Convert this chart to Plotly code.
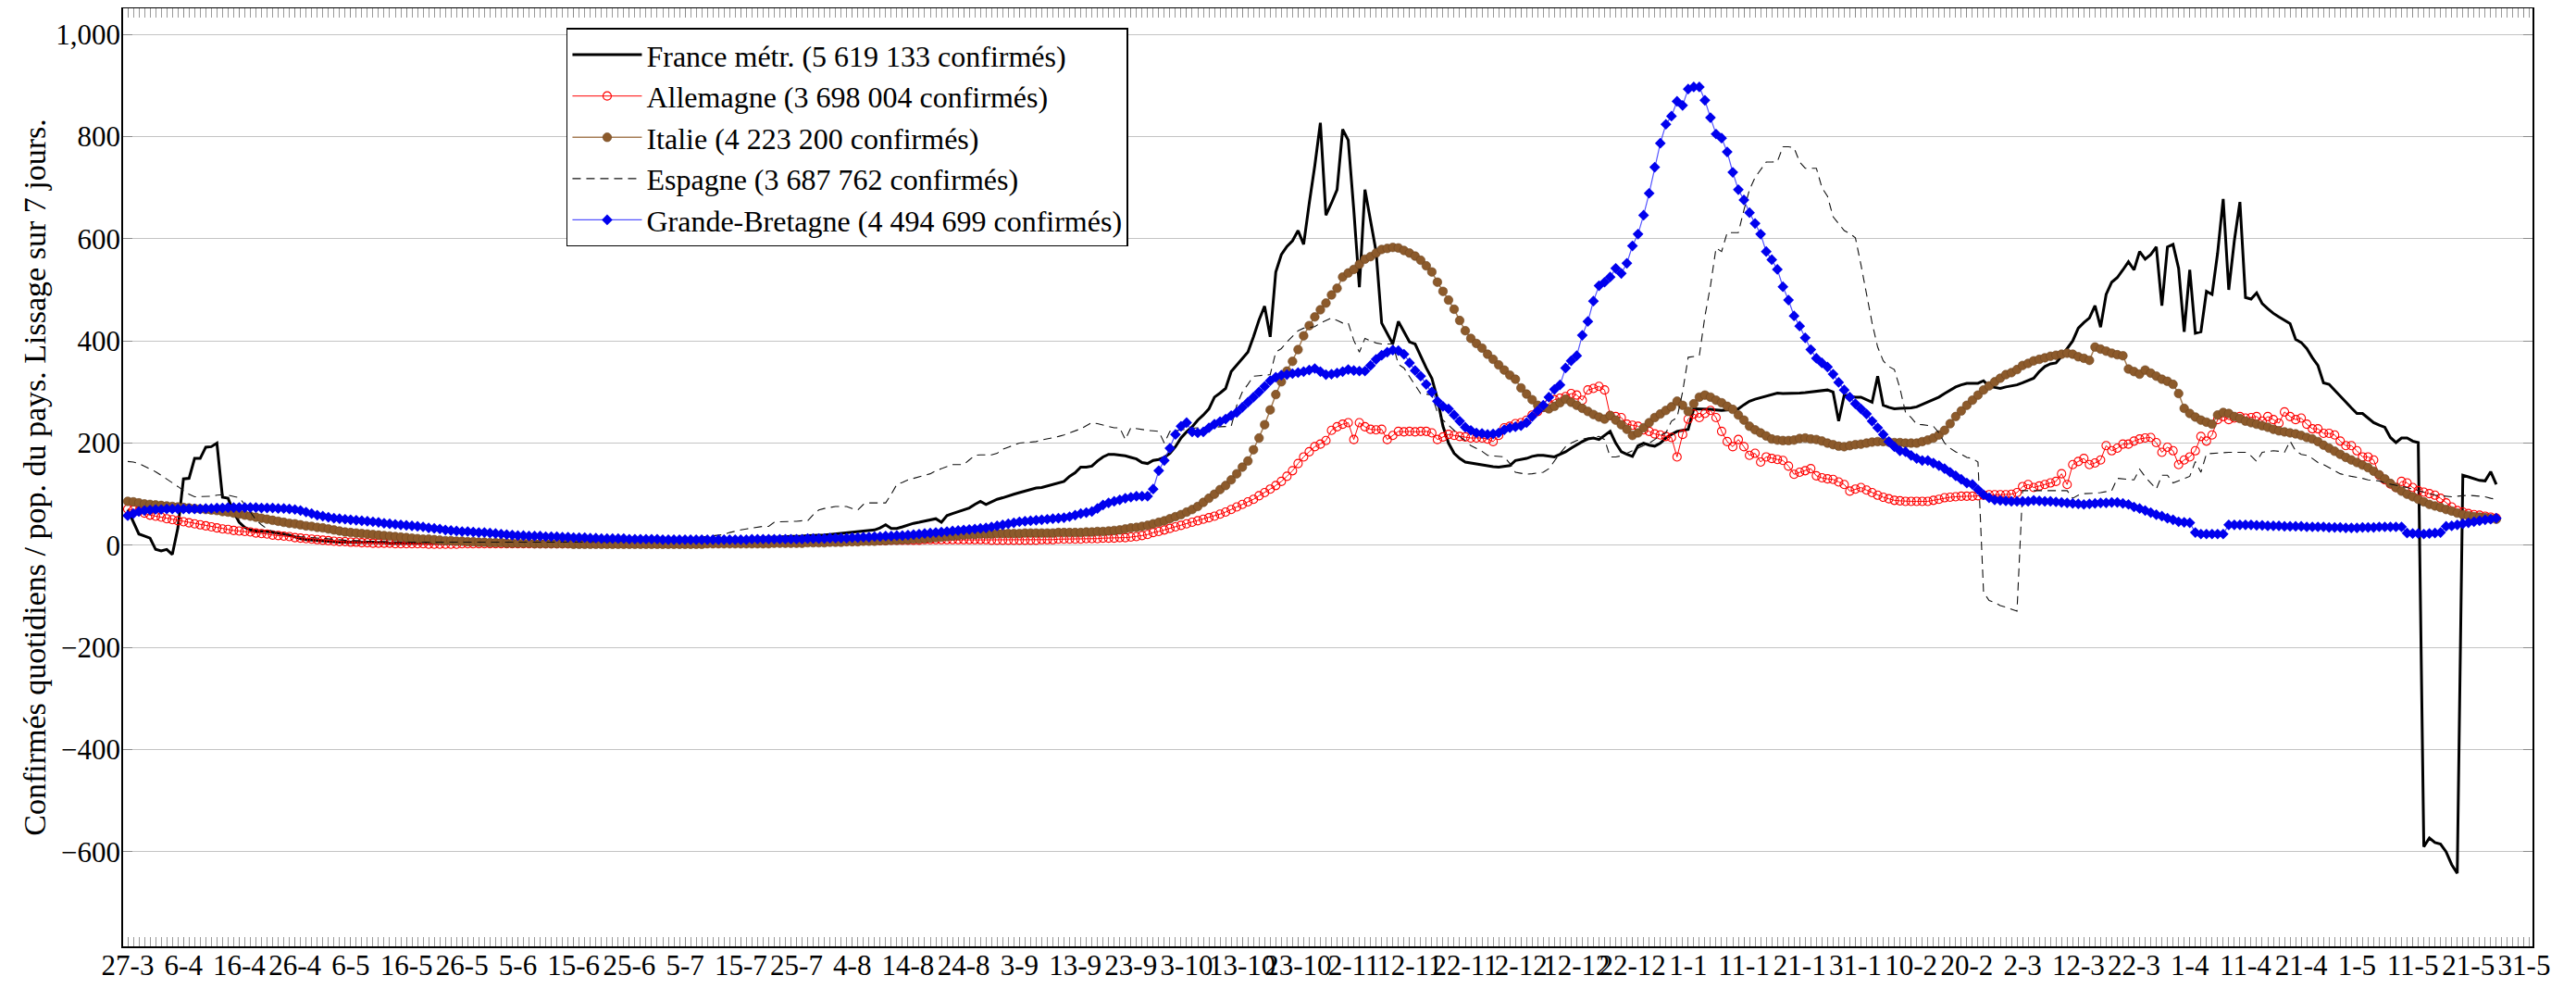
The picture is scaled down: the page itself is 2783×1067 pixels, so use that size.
import pandas as pd
import plotly.graph_objects as go

START = "2020-03-27"

# Daily values, one row = 10 days (starting 27-3-2020)
FRANCE = [
    70, 45, 22, 18, 14, -8, -11, -8, -18, 34,
    130, 131, 170, 170, 192, 193, 200, 94, 92, 65,
    45, 35, 30, 28, 28, 27, 25, 24, 22, 20,
    16, 13, 11, 10, 9, 8, 7, 7, 6, 6,
    6, 5, 5, 5, 5, 5, 5, 4, 4, 4,
    4, 4, 4, 4, 4, 4, 4, 4, 4, 4,
    4, 4, 3, 3, 3, 4, 4, 4, 4, 4,
    4, 5, 5, 5, 5, 5, 5, 6, 6, 6,
    6, 6, 6, 7, 7, 7, 7, 7, 7, 8,
    8, 8, 8, 8, 9, 9, 9, 9, 10, 10,
    10, 10, 11, 11, 11, 12, 12, 12, 13, 13,
    13, 14, 14, 14, 15, 15, 16, 16, 17, 17,
    18, 18, 19, 19, 20, 20, 21, 22, 23, 24,
    25, 26, 27, 28, 30, 34, 40, 33, 33, 36,
    40, 43, 45, 47, 50, 52, 45, 58, 62, 66,
    70, 73, 80, 86, 80, 85, 90, 93, 97, 100,
    103, 106, 109, 112, 113, 116, 118, 121, 125, 135,
    142, 153, 153, 155, 165, 173, 178, 178, 177, 175,
    172, 169, 162, 160, 166, 168, 172, 180, 193, 210,
    222, 232, 245, 255, 267, 290, 298, 307, 340, 352,
    364, 378, 408, 441, 468, 408, 535, 569, 585, 596,
    616, 589, 669, 743, 827, 646, 670, 696, 814, 793,
    656, 505, 696, 636, 575, 435, 415, 394, 438, 418,
    398, 394, 370, 347, 327, 287, 233, 200, 180, 170,
    163, 161, 159, 157, 156, 154, 153, 154, 156, 166,
    168, 170, 174, 176, 176, 174, 173, 178, 183, 190,
    197, 203, 208, 210, 207, 215, 223, 200, 183, 178,
    174, 195, 200, 196, 194, 200, 210, 217, 223, 225,
    227, 267, 267, 267, 266, 265, 264, 265, 266, 267,
    275, 282, 286, 289, 292, 295, 298, 297, 297, 298,
    298, 299, 300, 301, 302, 304, 300, 243, 294, 292,
    290, 290, 285, 280, 331, 274, 270, 267, 268, 268,
    269, 271, 276, 280, 285, 290, 297, 304, 310, 314,
    317, 317, 317, 322, 311, 309, 307, 310, 312, 314,
    318, 322, 327, 340, 350, 355, 357, 370, 385, 400,
    425, 436, 445, 469, 427, 491, 515, 524, 539, 555,
    539, 575, 560, 569, 584, 469, 584, 589, 542, 418,
    539, 415, 418, 497, 491, 572, 678, 500, 596, 672,
    485, 482, 494, 473, 463, 454, 447, 441, 434, 403,
    397, 385, 367, 352, 318, 315, 303, 291, 279, 269,
    258, 258, 249, 240, 235, 231, 211, 201, 210, 210,
    204, 201, -590, -573, -582, -585, -600, -625, -642, 137,
    134, 130, 127, 126, 144, 119,
]

ALLEMAGNE = [
    71, 69, 67, 63, 59, 57, 55, 52, 50, 48,
    46, 44, 42, 40, 38, 36, 34, 32, 31, 29,
    28, 27, 26, 24, 23, 22, 20, 19, 18, 17,
    15, 14, 13, 12, 11, 10, 9, 8, 7, 7,
    6, 6, 5, 5, 4, 4, 4, 4, 3, 3,
    3, 3, 3, 3, 2, 2, 2, 2, 2, 2,
    3, 3, 3, 3, 3, 3, 3, 3, 3, 3,
    3, 3, 3, 3, 3, 3, 3, 3, 3, 3,
    4, 4, 4, 5, 5, 5, 5, 5, 5, 5,
    5, 5, 5, 4, 4, 4, 4, 4, 4, 4,
    4, 4, 4, 4, 4, 4, 4, 5, 5, 5,
    5, 5, 5, 5, 5, 6, 6, 6, 6, 6,
    6, 6, 7, 7, 7, 7, 8, 8, 8, 8,
    8, 8, 9, 9, 9, 9, 9, 10, 10, 10,
    10, 10, 10, 11, 11, 11, 11, 11, 11, 11,
    11, 11, 11, 11, 11, 10, 10, 10, 10, 10,
    10, 10, 10, 10, 11, 11, 11, 12, 12, 12,
    12, 12, 13, 13, 13, 14, 14, 14, 15, 15,
    16, 17, 19, 21, 25, 27, 30, 33, 36, 39,
    42, 45, 48, 51, 54, 57, 61, 65, 70, 75,
    80, 85, 90, 97, 103, 110, 117, 125, 135, 146,
    160, 173, 183, 193, 198, 205, 225, 232, 237, 240,
    207, 240, 232, 227, 226, 227, 207, 215, 223, 222,
    223, 222, 223, 223, 220, 207, 212, 217, 215, 213,
    212, 210, 210, 210, 208, 203, 215, 230, 233, 238,
    240, 245, 255, 262, 270, 277, 285, 288, 291, 297,
    294, 284, 304, 307, 311, 304, 254, 252, 250, 237,
    235, 233, 226, 223, 218, 216, 213, 211, 173, 217,
    247, 257, 250, 258, 264, 250, 223, 203, 193, 207,
    193, 176, 180, 163, 173, 170, 168, 166, 155, 139,
    143, 146, 150, 136, 132, 130, 129, 124, 119, 106,
    110, 113, 108, 103, 98, 94, 91, 88, 87, 86,
    86, 86, 86, 86, 88, 90, 93, 94, 95, 96,
    96, 96, 97, 98, 99, 99, 99, 99, 100, 103,
    115, 119, 113, 116, 119, 122, 125, 140, 119, 158,
    164, 170, 158, 161, 167, 195, 185, 190, 198, 198,
    204, 208, 210, 211, 201, 182, 192, 185, 158, 167,
    173, 185, 213, 204, 216, 246, 252, 246, 249, 252,
    249, 250, 252, 243, 252, 246, 239, 261, 252, 246,
    249, 237, 228, 228, 219, 219, 216, 204, 195, 195,
    185, 173, 173, 167, 137, 128, 120, 113, 125, 122,
    113, 107, 104, 101, 98, 92, 83, 75, 68, 65,
    62, 60, 59, 57, 55, 53,
]

ITALIE = [
    86, 85, 83, 81, 80, 79, 78, 77, 76, 75,
    74, 73, 72, 71, 70, 69, 68, 66, 65, 63,
    61, 59, 57, 55, 53, 51, 49, 47, 45, 43,
    42, 40, 38, 37, 35, 34, 32, 30, 28, 26,
    25, 24, 23, 22, 21, 20, 19, 18, 17, 16,
    15, 14, 13, 12, 12, 11, 10, 9, 9, 8,
    8, 7, 7, 6, 6, 5, 5, 5, 4, 4,
    4, 4, 4, 3, 3, 3, 3, 3, 3, 3,
    2, 2, 2, 2, 2, 2, 2, 2, 2, 2,
    2, 2, 2, 2, 2, 2, 2, 2, 2, 2,
    2, 2, 2, 2, 3, 3, 3, 3, 3, 3,
    3, 3, 3, 3, 3, 3, 4, 4, 4, 4,
    4, 4, 5, 5, 5, 5, 6, 6, 6, 7,
    7, 7, 8, 8, 8, 9, 9, 10, 10, 11,
    11, 12, 12, 13, 14, 15, 16, 17, 18, 19,
    20, 21, 21, 22, 22, 22, 23, 23, 23, 23,
    23, 24, 24, 24, 24, 24, 24, 25, 25, 25,
    25, 25, 26, 26, 27, 27, 28, 29, 30, 32,
    34, 35, 37, 39, 42, 45, 48, 52, 56, 60,
    65, 70, 76, 84, 92, 100, 109, 117, 128, 140,
    153, 165, 187, 210, 236, 265, 295, 320, 341, 360,
    383, 410, 430, 447, 461, 474, 490, 503, 525, 533,
    540, 550, 560, 565, 572, 579, 581, 583, 582, 577,
    572, 566, 558, 547, 535, 515, 497, 480, 462, 440,
    420, 405, 395, 386, 374, 364, 353, 343, 333, 325,
    308, 296, 285, 274, 270, 267, 272, 279, 286, 280,
    274, 268, 262, 256, 251, 247, 254, 245, 236, 227,
    215, 220, 230, 240, 250, 257, 264, 271, 282, 274,
    262, 277, 290, 294, 290, 284, 279, 272, 266, 255,
    245, 233, 226, 220, 214, 208, 206, 205, 205, 206,
    209, 210, 208, 207, 204, 200, 197, 194, 193, 195,
    197, 198, 200, 202, 203, 203, 202, 201, 201, 200,
    200, 200, 203, 206, 210, 216, 225, 238, 252, 263,
    274, 284, 294, 304, 312, 320, 327, 334, 338, 344,
    352, 356, 361, 364, 367, 370, 372, 374, 376, 374,
    369, 366, 362, 388, 384, 380, 376, 373, 371, 345,
    340, 335, 343, 337, 331, 325, 321, 315, 297, 268,
    258, 251, 245, 241, 237, 255, 260, 258, 252, 248,
    243, 240, 237, 234, 231, 227, 224, 222, 220, 218,
    215, 211, 208, 203, 196, 190, 184, 178, 172, 167,
    162, 157, 152, 145, 138, 130, 121, 113, 106, 100,
    95, 90, 85, 80, 77, 74, 70, 67, 63, 60,
    58, 56, 55, 54, 52, 51,
]

ESPAGNE = [
    164, 163, 160, 155, 150, 144, 137, 130, 122, 115,
    107, 100, 95, 95, 95, 96, 98, 99, 98, 96,
    93, 80, 65, 50, 40, 32, 27, 24, 22, 20,
    18, 17, 16, 15, 14, 13, 12, 11, 10, 10,
    9, 9, 8, 8, 8, 7, 7, 7, 6, 6,
    6, 6, 6, 5, 5, 5, 5, 5, 5, 5,
    5, 5, 5, 5, 5, 5, 5, 5, 5, 5,
    5, 5, 5, 5, 5, 6, 6, 6, 6, 6,
    6, 6, 6, 7, 7, 7, 7, 7, 8, 8,
    8, 9, 9, 10, 10, 11, 11, 12, 12, 13,
    13, 14, 15, 16, 17, 18, 19, 21, 25, 28,
    30, 32, 34, 36, 37, 37, 45, 46, 46, 47,
    47, 48, 48, 60, 69, 72, 74, 76, 76, 76,
    72, 69, 80, 83, 83, 83, 83, 100, 119, 123,
    128, 131, 134, 137, 140, 146, 150, 154, 158, 158,
    158, 167, 176, 177, 177, 177, 180, 188, 192, 196,
    200, 201, 202, 203, 206, 208, 211, 213, 216, 220,
    223, 228, 234, 240, 238, 235, 232, 230, 230, 207,
    230, 228, 226, 225, 224, 223, 200, 223, 224, 226,
    228, 229, 230, 230, 231, 231, 232, 232, 233, 274,
    300, 315, 331, 332, 333, 334, 378, 385, 398, 410,
    420, 425, 427, 428, 435, 440, 445, 440, 435, 435,
    401, 378, 405, 400, 396, 394, 394, 394, 354, 347,
    330, 314, 297, 296, 294, 260, 245, 235, 225, 213,
    205, 195, 190, 184, 176, 175, 174, 173, 160, 143,
    141, 139, 140, 141, 143, 150, 166, 180, 193, 200,
    205, 208, 210, 212, 213, 207, 173, 173, 175, 180,
    185, 190, 195, 200, 207, 215, 220, 243, 250, 300,
    368, 370, 371, 448, 508, 582, 575, 612, 612, 612,
    656, 696, 720, 736, 750, 750, 751, 780, 780, 778,
    750, 738, 738, 738, 700, 683, 643, 630, 616, 610,
    602, 549, 495, 435, 388, 361, 350, 344, 307, 260,
    250, 237, 236, 235, 233, 220, 200, 190, 183, 178,
    172, 170, 163, -92, -108, -112, -118, -121, -125, -129,
    107, 107, 107, 107, 107, 107, 107, 107, 107, 92,
    98, 101, 101, 102, 103, 105, 107, 131, 130, 129,
    128, 149, 134, 122, 110, 137, 137, 122, 126, 131,
    135, 164, 143, 179, 180, 181, 182, 182, 182, 182,
    182, 175, 164, 182, 183, 185, 184, 182, 204, 185,
    178, 176, 170, 162, 158, 152, 147, 140, 137, 135,
    134, 131, 128, 127, 126, 122, 120, 118, 116, 113,
    110, 107, 104, 101, 98, 97, 96, 95, 96, 97,
    98, 97, 96, 95, 92, 90,
]

GRANDE_BRETAGNE = [
    58, 62, 66, 68, 69, 70, 70, 71, 71, 71,
    71, 71, 71, 71, 72, 72, 73, 73, 74, 74,
    74, 74, 74, 74, 73, 73, 73, 72, 72, 71,
    70, 68, 65, 62, 59, 57, 55, 53, 52, 51,
    50, 49, 48, 47, 46, 45, 43, 42, 41, 40,
    39, 38, 37, 36, 34, 33, 32, 30, 29, 28,
    27, 27, 26, 25, 25, 24, 23, 22, 21, 20,
    19, 19, 18, 18, 18, 17, 17, 17, 16, 16,
    15, 15, 15, 14, 14, 13, 13, 13, 13, 13,
    12, 12, 12, 12, 12, 12, 11, 11, 11, 11,
    11, 11, 11, 11, 11, 11, 11, 11, 11, 11,
    11, 11, 12, 12, 12, 12, 12, 12, 12, 12,
    12, 12, 13, 13, 13, 13, 14, 14, 14, 14,
    15, 15, 16, 16, 17, 17, 18, 18, 19, 19,
    20, 21, 22, 23, 24, 25, 26, 27, 28, 29,
    30, 31, 32, 33, 34, 36, 38, 40, 42, 44,
    46, 47, 48, 49, 50, 51, 52, 53, 54, 56,
    59, 62, 64, 66, 72, 79, 83, 86, 89, 92,
    94, 96, 96, 96, 110, 146, 166, 190, 217, 233,
    240, 222, 220, 222, 230, 237, 242, 247, 254, 260,
    270, 280, 290, 300, 311, 322, 329, 333, 334, 336,
    338, 340, 343, 346, 340, 334, 335, 337, 340, 344,
    342, 341, 341, 352, 364, 372, 378, 382, 381, 374,
    357, 342, 331, 315, 300, 282, 272, 267, 255, 243,
    231, 225, 220, 219, 217, 218, 220, 226, 230, 232,
    234, 240, 252, 263, 274, 290, 305, 314, 347, 361,
    371, 411, 438, 478, 508, 515, 525, 542, 532, 552,
    586, 609, 646, 689, 740, 787, 824, 840, 869, 861,
    893, 897, 897, 871, 837, 805, 797, 770, 730, 696,
    676, 651, 630, 609, 575, 559, 540, 506, 480, 449,
    429, 406, 383, 366, 357, 349, 335, 319, 304, 290,
    277, 267, 257, 243, 230, 217, 203, 193, 185, 183,
    176, 170, 166, 166, 161, 156, 150, 143, 136, 129,
    122, 119, 109, 99, 93, 89, 88, 87, 86, 86,
    86, 86, 88, 87, 86, 86, 85, 84, 83, 82,
    81, 80, 81, 82, 83, 83, 84, 84, 82, 80,
    75, 72, 68, 64, 60, 57, 53, 50, 46, 45,
    44, 25, 22, 22, 22, 22, 22, 40, 40, 40,
    40, 40, 39, 39, 38, 38, 38, 37, 37, 37,
    37, 36, 36, 36, 36, 35, 35, 35, 34, 34,
    34, 35, 35, 35, 36, 36, 36, 36, 36, 24,
    23, 23, 22, 23, 24, 25, 37, 38, 40, 42,
    44, 46, 48, 50, 51, 53,
]

NAMES = [
    "France métr. (5 619 133 confirmés)",
    "Allemagne (3 698 004 confirmés)",
    "Italie (4 223 200 confirmés)",
    "Espagne (3 687 762 confirmés)",
    "Grande-Bretagne (4 494 699 confirmés)",
]

TICK_LABELS = [
    "27-3", "6-4", "16-4", "26-4", "6-5", "16-5", "26-5", "5-6", "15-6", "25-6",
    "5-7", "15-7", "25-7", "4-8", "14-8", "24-8", "3-9", "13-9", "23-9", "3-10",
    "13-10", "23-10", "2-11", "12-11", "22-11", "2-12", "12-12", "22-12", "1-1", "11-1",
    "21-1", "31-1", "10-2", "20-2", "2-3", "12-3", "22-3", "1-4", "11-4", "21-4",
    "1-5", "11-5", "21-5", "31-5",
]

FONT = "'Liberation Serif', 'Times New Roman', serif"

start = pd.Timestamp(START)


def dates(vals):
    return pd.date_range(start, periods=len(vals), freq="D")


tick_vals = [start + pd.Timedelta(days=10 * i) for i in range(len(TICK_LABELS))]

fig = go.Figure()
fig.add_trace(go.Scatter(
    x=dates(FRANCE), y=FRANCE, name=NAMES[0], mode="lines",
    line=dict(color="black", width=3)))
fig.add_trace(go.Scatter(
    x=dates(ALLEMAGNE), y=ALLEMAGNE, name=NAMES[1], mode="lines+markers",
    line=dict(color="red", width=1),
    marker=dict(symbol="circle-open", size=9, color="red", line=dict(width=1.1, color="red"))))
fig.add_trace(go.Scatter(
    x=dates(ITALIE), y=ITALIE, name=NAMES[2], mode="lines+markers",
    line=dict(color="#a57d55", width=1.5),
    marker=dict(symbol="circle", size=9.5, color="#8c5a2b", line=dict(width=0.6, color="#6e4520"))))
fig.add_trace(go.Scatter(
    x=dates(ESPAGNE), y=ESPAGNE, name=NAMES[3], mode="lines",
    line=dict(color="#111111", width=1.1, dash="9px,6px")))
fig.add_trace(go.Scatter(
    x=dates(GRANDE_BRETAGNE), y=GRANDE_BRETAGNE, name=NAMES[4], mode="lines+markers",
    line=dict(color="rgba(40,40,255,0.8)", width=1.2),
    marker=dict(symbol="diamond", size=9, color="#0000ee", line=dict(width=0))))

# The page body has an 8 px default margin: size the figure so the plot area
# lands where the reference has it and the page does not scroll.
day = pd.Timedelta(days=1)
fig.update_layout(
    width=2775, height=1051,
    margin=dict(l=125, r=47, t=1, b=37),
    paper_bgcolor="white", plot_bgcolor="white",
    font=dict(family=FONT, size=31, color="black"),
    showlegend=True,
    legend=dict(
        x=0.184, y=0.979, xanchor="left", yanchor="top",
        bgcolor="white", bordercolor="black", borderwidth=1.5,
        font=dict(family=FONT, size=32), itemwidth=75, tracegroupgap=0,
    ),
    xaxis=dict(
        type="date", automargin=False,
        range=[start - 0.83 * day, start + 431.5 * day],
        tickmode="array", tickvals=tick_vals, ticktext=TICK_LABELS,
        tickangle=0,
        ticks="inside", ticklen=10, tickcolor="#8c8c8c", tickwidth=1,
        minor=dict(dtick=86400000, tick0=START, ticks="inside", ticklen=10,
                   tickcolor="#9a9a9a", tickwidth=1, showgrid=False),
        showgrid=False, zeroline=False,
        showline=True, linecolor="black", linewidth=1.5, mirror="allticks",
        ticklabelstandoff=-8,
        tickfont=dict(family=FONT, size=31),
    ),
    yaxis=dict(
        automargin=False,
        range=[-785, 1051],
        tickmode="linear", tick0=0, dtick=200, tickformat=",d",
        ticks="inside", ticklen=10, tickcolor="#8c8c8c",
        showgrid=True, gridcolor="#c4c4c4", gridwidth=1.2,
        zeroline=False,
        showline=True, linecolor="black", linewidth=1.5, mirror="allticks",
        ticklabelstandoff=-5,
        tickfont=dict(family=FONT, size=31),
        title=dict(text="Confirmés quotidiens / pop. du pays. Lissage sur 7 jours.",
                   font=dict(family=FONT, size=34), standoff=0),
    ),
)

fig.write_html("out.html")
